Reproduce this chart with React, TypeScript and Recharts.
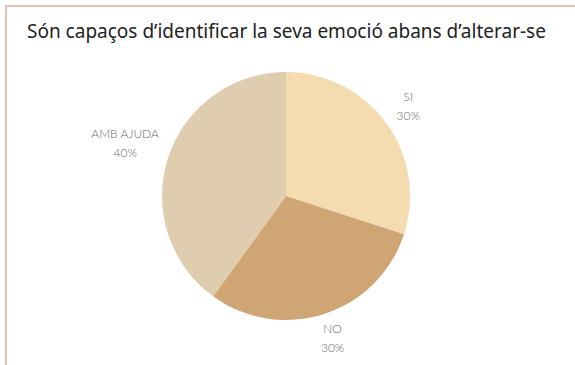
import React from "react";
import { PieChart, Pie, Cell } from "recharts";

const categories = ["SI", "NO", "AMB AJUDA"];
const values = [30, 30, 40];
const colors = ["#F5DCB0", "#CFA574", "#E0CDB0"];
const title = "Són capaços d’identificar la seva emoció abans d’alterar-se";

const data = categories.map((name, i) => ({ name, value: values[i] }));

const RAD = Math.PI / 180;
const FONT = "Lato, 'Open Sans', sans-serif";

const renderLabel = (props: any) => {
  const { cx, cy, midAngle, outerRadius, name, percent } = props;
  const pct = `${Math.round(percent * 100)}%`;
  const wName = name.length * 7.2;
  const hw = Math.max(wName, 22) / 2;
  const hh = 14;
  const c = Math.cos(-midAngle * RAD);
  const s = Math.sin(-midAngle * RAD);
  const r = outerRadius + 10 + hw * Math.abs(c) + hh * Math.abs(s);
  const x = cx + r * c;
  const y = cy + r * s;
  return (
    <text
      x={x}
      y={y}
      textAnchor="middle"
      fill="#666666"
      fontFamily={FONT}
      fontWeight={300}
      fontSize={12}
    >
      <tspan x={x} dy={-6}>{name}</tspan>
      <tspan x={x} dy={19}>{pct}</tspan>
    </text>
  );
};

export default function App() {
  return (
    <div style={{ position: "fixed", left: 0, top: 0, width: 575, height: 365, background: "#ffffff" }}>
      <div style={{ position: "absolute", left: 0, top: 0 }}>
        <PieChart width={575} height={365} margin={{ top: 0, right: 0, bottom: 0, left: 0 }}>
          <Pie
            data={data}
            dataKey="value"
            nameKey="name"
            cx={286}
            cy={196}
            outerRadius={124}
            startAngle={90}
            endAngle={-270}
            stroke="none"
            isAnimationActive={false}
            label={renderLabel}
            labelLine={false}
          >
            {data.map((d, i) => (
              <Cell key={d.name} fill={colors[i]} />
            ))}
          </Pie>
        </PieChart>
      </div>
      <div style={{ position: "absolute", left: 5, top: 5, width: 2, height: 360, background: "#E3C2B0" }} />
      <div style={{ position: "absolute", left: 5, top: 5, width: 570, height: 2, background: "#E3C2B0" }} />
      <div
        style={{
          position: "absolute",
          left: 27,
          top: 18,
          fontFamily: "'Noto Sans', sans-serif",
          fontSize: 19,
          color: "#222222",
          whiteSpace: "nowrap",
        }}
      >
        {title}
      </div>
    </div>
  );
}
